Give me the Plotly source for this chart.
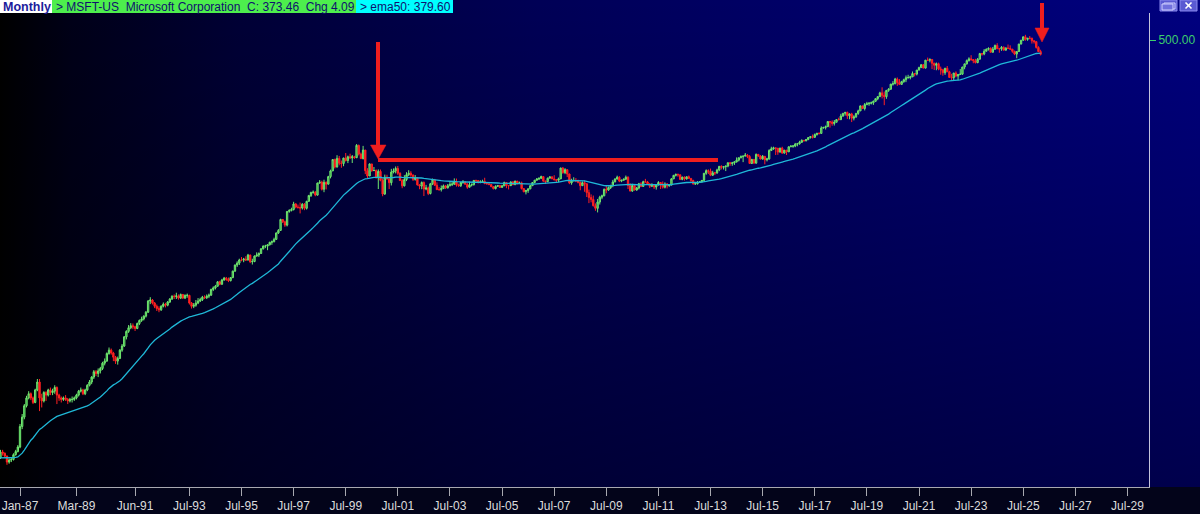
import base64
from datetime import datetime
import pandas as pd
import plotly.graph_objects as go

# ------------------------------------------------------------------ data
start_month = "1986-03"
first_open = 0.089

closes = [
    0.100, 0.113, 0.110, 0.104, 0.092, 0.096, 0.097, 0.107, 0.114, 0.125,                      # 1986 Mar-Dec
    0.190, 0.230, 0.290, 0.340, 0.370, 0.340, 0.310, 0.400, 0.470, 0.340, 0.320, 0.380,         # 1987
    0.360, 0.400, 0.380, 0.390, 0.420, 0.360, 0.340, 0.330, 0.340, 0.330, 0.320, 0.330,         # 1988
    0.330, 0.340, 0.360, 0.390, 0.400, 0.370, 0.400, 0.440, 0.470, 0.520, 0.580, 0.560,         # 1989
    0.590, 0.620, 0.690, 0.720, 0.840, 0.900, 0.850, 0.780, 0.720, 0.760, 0.900, 0.980,         # 1990
    1.180, 1.320, 1.420, 1.480, 1.450, 1.400, 1.550, 1.650, 1.700, 1.800, 1.950, 2.450,         # 1991
    2.500, 2.350, 2.200, 2.100, 2.050, 2.200, 2.300, 2.250, 2.400, 2.550, 2.700, 2.680,         # 1992
    2.720, 2.600, 2.800, 2.600, 2.750, 2.750, 2.350, 2.200, 2.250, 2.350, 2.450, 2.520,         # 1993
    2.650, 2.620, 2.700, 2.760, 3.100, 3.200, 3.310, 3.620, 3.450, 3.760, 3.900, 3.820,         # 1994
    3.710, 3.950, 4.500, 5.100, 5.300, 5.650, 5.640, 5.750, 5.650, 6.250, 5.450, 5.480,         # 1995
    6.120, 6.250, 6.450, 7.100, 7.500, 7.500, 7.700, 8.100, 8.200, 8.600, 9.800, 10.33,         # 1996
    12.90, 12.30, 11.50, 15.20, 15.50, 15.80, 17.70, 16.60, 16.50, 16.30, 17.60, 16.20,         # 1997
    18.66, 21.00, 22.40, 22.50, 21.20, 27.10, 27.60, 23.90, 27.50, 26.50, 30.90, 34.70,         # 1998
    43.75, 37.60, 44.80, 40.60, 40.40, 45.10, 42.90, 46.30, 45.30, 46.30, 45.50, 58.40,         # 1999
    48.90, 44.70, 53.10, 34.90, 31.30, 40.00, 34.90, 35.00, 30.20, 34.40, 28.70, 21.70,         # 2000
    30.50, 29.50, 27.30, 33.90, 34.60, 36.50, 33.10, 28.50, 25.60, 29.10, 32.10, 33.10,         # 2001
    31.90, 29.20, 30.20, 26.10, 25.50, 27.40, 24.00, 24.50, 21.90, 26.70, 28.90, 25.90,         # 2002
    23.70, 23.70, 24.20, 25.60, 24.60, 25.60, 26.40, 26.50, 27.80, 26.10, 25.70, 27.40,         # 2003
    27.70, 26.50, 24.90, 26.10, 26.20, 28.60, 28.50, 27.30, 27.70, 28.00, 26.80, 26.70,         # 2004
    26.30, 25.20, 24.20, 25.30, 25.80, 24.80, 25.60, 27.40, 25.70, 25.70, 27.70, 26.20,         # 2005
    28.20, 26.90, 27.20, 24.20, 22.70, 23.30, 24.10, 25.70, 27.40, 28.70, 29.40, 29.90,         # 2006
    30.90, 28.20, 27.90, 29.90, 30.70, 29.50, 29.00, 28.70, 29.50, 36.80, 33.60, 35.60,         # 2007
    32.60, 27.20, 28.40, 28.50, 28.30, 27.50, 25.70, 27.30, 26.70, 22.30, 20.20, 19.40,         # 2008
    17.10, 16.20, 18.40, 20.30, 20.90, 23.80, 23.50, 24.70, 25.70, 27.70, 29.40, 30.50,         # 2009
    28.20, 28.70, 29.30, 30.50, 25.80, 23.00, 25.80, 23.50, 24.50, 26.70, 25.30, 27.90,         # 2010
    27.70, 26.60, 25.40, 26.00, 25.00, 26.00, 27.40, 26.60, 24.90, 26.60, 25.60, 26.00,         # 2011
    29.50, 31.70, 32.30, 32.00, 29.20, 30.60, 29.50, 30.80, 29.80, 28.50, 26.60, 26.70,         # 2012
    27.50, 27.80, 28.60, 33.10, 34.90, 34.50, 31.80, 33.40, 33.30, 35.40, 38.10, 37.40,         # 2013
    37.80, 38.30, 41.00, 40.40, 40.90, 41.70, 43.20, 45.40, 46.40, 47.00, 47.80, 46.50,         # 2014
    40.40, 43.90, 40.70, 48.60, 47.00, 44.20, 46.70, 43.50, 44.30, 52.60, 54.40, 55.50,         # 2015
    55.10, 50.90, 55.20, 49.90, 53.00, 51.20, 56.70, 57.50, 57.60, 59.90, 60.30, 62.10,         # 2016
    64.70, 64.00, 65.90, 68.50, 69.80, 68.90, 72.70, 74.80, 74.50, 83.20, 84.20, 85.50,         # 2017
    95.00, 93.80, 91.30, 93.50, 98.80, 98.60, 106.1, 112.3, 114.4, 106.8, 110.9, 101.6,         # 2018
    104.4, 112.0, 117.9, 130.6, 123.7, 134.0, 136.3, 137.9, 139.0, 143.4, 151.4, 157.7,         # 2019
    170.2, 162.0, 157.7, 179.2, 183.3, 203.5, 205.0, 225.5, 210.3, 202.5, 214.1, 222.4,         # 2020
    232.0, 232.4, 235.8, 252.2, 249.7, 270.9, 284.9, 301.9, 281.9, 331.6, 330.6, 336.3,         # 2021
    311.0, 298.8, 308.3, 277.5, 271.9, 256.8, 280.7, 261.5, 232.9, 232.1, 255.1, 239.8,         # 2022
    247.8, 249.4, 288.3, 307.3, 328.4, 340.5, 335.9, 327.8, 315.8, 338.1, 378.9, 376.0,         # 2023
    397.6, 413.6, 420.7, 389.3, 415.1, 446.9, 418.4, 417.1, 430.3, 406.4, 423.5, 421.5,         # 2024
    415.1, 397.0, 375.4, 395.3, 460.4, 497.4, 533.5, 506.7, 517.9, 517.8, 492.0, 483.6,         # 2025
    430.0, 395.0, 373.46,                                                                       # 2026 Jan-Mar
]

highs = [
    0.104, 0.118, 0.118, 0.112, 0.105, 0.099, 0.101, 0.110, 0.118, 0.130,
    0.200, 0.245, 0.300, 0.355, 0.390, 0.380, 0.350, 0.410, 0.500, 0.500, 0.370, 0.390,
    0.390, 0.410, 0.420, 0.410, 0.440, 0.430, 0.370, 0.350, 0.350, 0.360, 0.340, 0.340,
    0.350, 0.350, 0.370, 0.400, 0.420, 0.410, 0.410, 0.450, 0.490, 0.530, 0.600, 0.600,
    0.620, 0.640, 0.710, 0.760, 0.860, 0.950, 0.930, 0.870, 0.800, 0.790, 0.920, 1.020,
    1.200, 1.350, 1.500, 1.560, 1.550, 1.480, 1.580, 1.680, 1.780, 1.830, 2.000, 2.500,
    2.650, 2.550, 2.400, 2.280, 2.200, 2.250, 2.380, 2.360, 2.450, 2.600, 2.750, 2.800,
    2.900, 2.800, 2.850, 2.820, 2.800, 2.850, 2.780, 2.400, 2.350, 2.500, 2.600, 2.620,
    2.720, 2.750, 2.800, 2.850, 3.150, 3.300, 3.400, 3.680, 3.700, 3.850, 4.000, 4.000,
    3.950, 3.980, 4.550, 5.150, 5.500, 5.800, 6.000, 5.900, 6.100, 6.400, 6.300, 5.800,
    6.200, 6.600, 6.600, 7.200, 7.600, 7.700, 7.800, 8.200, 8.400, 8.900, 9.900, 10.60,
    13.10, 13.00, 12.60, 15.30, 15.90, 16.40, 18.50, 18.00, 17.50, 18.20, 18.00, 18.00,
    18.90, 21.30, 22.70, 23.30, 23.00, 27.30, 28.80, 28.40, 29.00, 28.00, 31.40, 35.60,
    44.00, 44.60, 47.80, 47.10, 42.90, 45.40, 50.00, 47.40, 49.30, 48.00, 47.20, 59.97,
    59.30, 50.50, 57.80, 53.10, 36.70, 40.50, 40.00, 37.60, 35.80, 35.80, 35.70, 29.70,
    32.20, 32.10, 30.60, 36.20, 36.50, 38.00, 38.40, 33.70, 29.40, 31.80, 33.80, 35.20,
    34.50, 32.30, 31.90, 30.60, 26.50, 28.00, 28.00, 26.10, 25.20, 27.20, 29.70, 29.50,
    27.50, 24.90, 25.80, 26.30, 26.10, 26.60, 27.90, 27.70, 29.80, 29.70, 26.80, 27.70,
    28.80, 28.00, 27.00, 27.90, 26.90, 28.70, 29.00, 28.50, 28.70, 29.00, 30.20, 27.40,
    26.80, 26.40, 25.40, 25.90, 26.00, 26.10, 26.10, 27.90, 27.50, 26.00, 28.00, 28.20,
    28.40, 28.20, 27.90, 27.90, 24.30, 23.60, 24.30, 26.00, 27.50, 28.90, 30.00, 30.30,
    31.50, 31.10, 28.50, 30.30, 31.20, 31.20, 31.80, 29.40, 30.30, 37.00, 37.50, 36.70,
    35.90, 32.80, 29.60, 30.50, 30.00, 29.00, 27.90, 28.00, 28.50, 27.00, 23.70, 21.50,
    21.00, 17.90, 19.60, 20.90, 21.40, 24.30, 25.70, 25.30, 26.20, 28.90, 29.90, 31.50,
    31.20, 29.00, 29.70, 31.60, 31.10, 26.90, 26.70, 26.10, 25.00, 27.20, 27.60, 28.40,
    29.50, 28.30, 27.00, 27.00, 26.00, 26.20, 28.20, 27.50, 28.00, 27.50, 27.10, 26.20,
    30.00, 32.00, 32.90, 32.90, 32.50, 30.80, 31.00, 31.00, 31.60, 30.00, 29.00, 27.70,
    28.20, 28.10, 28.80, 33.10, 35.80, 35.80, 36.40, 34.80, 34.00, 36.30, 38.30, 38.90,
    37.90, 38.60, 41.10, 41.70, 41.70, 42.30, 45.70, 45.50, 47.60, 47.20, 50.00, 49.00,
    47.90, 44.30, 44.20, 49.50, 48.80, 47.80, 48.00, 47.10, 45.30, 54.00, 56.80, 56.80,
    55.60, 55.10, 55.60, 56.80, 53.00, 53.00, 57.30, 58.50, 58.70, 61.40, 61.40, 64.10,
    66.00, 65.20, 66.20, 69.10, 70.70, 72.90, 74.40, 74.90, 75.90, 86.20, 85.10, 87.50,
    95.50, 96.20, 97.20, 97.90, 99.00, 102.7, 111.1, 112.8, 115.3, 116.2, 112.2, 113.4,
    107.9, 113.2, 120.8, 131.4, 130.7, 138.4, 141.7, 140.9, 142.4, 145.7, 152.0, 159.6,
    174.1, 190.7, 175.0, 180.6, 187.5, 204.4, 216.4, 231.2, 232.9, 225.2, 217.5, 227.2,
    242.6, 246.1, 241.0, 263.2, 254.4, 271.7, 290.2, 305.8, 305.8, 332.0, 349.7, 344.3,
    338.0, 315.1, 315.9, 315.1, 290.9, 277.7, 283.7, 294.2, 267.0, 251.0, 255.3, 263.9,
    249.8, 276.8, 289.3, 308.9, 335.9, 351.4, 366.8, 338.5, 340.9, 346.2, 384.3, 384.0,
    415.3, 420.8, 430.8, 430.8, 433.6, 456.2, 468.4, 422.0, 441.9, 439.6, 431.0, 456.2,
    448.4, 416.1, 402.1, 396.0, 462.5, 500.8, 536.0, 555.5, 520.0, 542.0, 524.0, 498.0,
    490.0, 440.0, 410.0,
]

lows = [
    0.088, 0.098, 0.105, 0.101, 0.087, 0.089, 0.092, 0.095, 0.105, 0.112,
    0.122, 0.180, 0.220, 0.280, 0.330, 0.325, 0.300, 0.305, 0.390, 0.260, 0.280, 0.310,
    0.320, 0.350, 0.360, 0.360, 0.370, 0.300, 0.320, 0.310, 0.320, 0.320, 0.300, 0.310,
    0.310, 0.320, 0.330, 0.350, 0.380, 0.360, 0.360, 0.390, 0.430, 0.450, 0.500, 0.530,
    0.520, 0.560, 0.600, 0.660, 0.710, 0.820, 0.820, 0.720, 0.680, 0.670, 0.750, 0.870,
    0.960, 1.120, 1.280, 1.380, 1.380, 1.330, 1.380, 1.500, 1.600, 1.650, 1.750, 1.920,
    2.300, 2.280, 2.120, 2.000, 1.950, 2.000, 2.150, 2.150, 2.200, 2.350, 2.500, 2.550,
    2.550, 2.520, 2.550, 2.550, 2.550, 2.620, 2.280, 2.100, 2.120, 2.180, 2.300, 2.400,
    2.450, 2.550, 2.550, 2.600, 2.720, 3.000, 3.100, 3.280, 3.380, 3.400, 3.700, 3.700,
    3.600, 3.650, 3.900, 4.450, 4.900, 5.100, 5.500, 5.400, 5.550, 5.600, 5.300, 5.150,
    5.400, 6.050, 6.000, 6.400, 7.000, 7.200, 6.900, 7.600, 7.700, 8.100, 8.500, 9.600,
    10.20, 12.00, 11.10, 11.20, 14.80, 15.20, 15.50, 16.20, 16.10, 14.60, 15.80, 15.60,
    15.80, 18.60, 20.40, 21.80, 20.70, 21.00, 26.70, 23.30, 22.50, 23.80, 26.40, 29.80,
    34.70, 36.50, 37.20, 38.90, 37.00, 38.20, 42.00, 40.70, 44.40, 40.80, 44.40, 45.00,
    47.50, 44.10, 43.80, 32.50, 30.00, 31.30, 34.10, 34.70, 29.80, 24.00, 28.10, 20.70,
    21.30, 29.00, 24.00, 25.80, 33.00, 33.00, 32.00, 28.30, 24.40, 25.30, 28.20, 31.20,
    30.80, 28.30, 28.50, 25.80, 23.90, 23.90, 20.80, 23.40, 21.20, 21.50, 26.00, 25.60,
    23.50, 23.20, 22.80, 24.00, 24.00, 24.20, 25.40, 25.50, 26.10, 25.20, 25.10, 25.00,
    26.70, 26.30, 24.10, 24.80, 25.30, 25.80, 27.50, 27.00, 27.10, 27.50, 26.50, 26.30,
    25.90, 24.90, 23.80, 23.80, 25.20, 24.60, 24.70, 25.50, 24.40, 23.80, 25.50, 26.00,
    26.10, 26.30, 26.70, 23.80, 22.50, 21.50, 22.20, 23.90, 25.50, 26.90, 28.50, 28.80,
    29.40, 27.80, 26.60, 27.90, 29.90, 29.50, 28.70, 27.50, 27.60, 29.40, 32.70, 32.50,
    30.60, 26.50, 26.20, 28.10, 27.60, 26.90, 23.40, 25.50, 22.70, 20.40, 18.00, 18.30,
    16.80, 15.40, 14.90, 17.50, 19.50, 20.70, 22.00, 23.10, 24.00, 24.90, 27.60, 29.20,
    27.60, 27.60, 28.50, 28.90, 24.00, 23.00, 22.70, 23.30, 23.20, 23.80, 25.10, 25.20,
    27.50, 26.30, 24.50, 25.00, 24.00, 23.70, 25.90, 24.00, 24.20, 24.30, 24.30, 25.20,
    25.90, 29.50, 31.00, 30.80, 28.80, 28.70, 28.50, 29.10, 29.50, 27.80, 26.30, 26.20,
    26.30, 27.20, 27.40, 28.50, 32.10, 32.60, 31.20, 31.30, 31.90, 32.80, 34.50, 35.80,
    35.70, 34.60, 37.40, 38.50, 38.50, 39.20, 41.20, 42.10, 44.80, 41.50, 46.70, 45.00,
    40.20, 40.10, 40.10, 40.10, 46.20, 43.90, 43.70, 39.70, 42.10, 43.60, 52.00, 53.40,
    48.00, 48.20, 50.60, 49.30, 49.50, 48.00, 51.10, 56.50, 55.60, 56.30, 57.30, 59.20,
    61.90, 63.60, 63.60, 64.90, 67.10, 67.10, 68.00, 71.30, 72.90, 74.20, 82.20, 80.70,
    85.00, 83.80, 87.10, 87.50, 93.30, 97.40, 98.30, 104.8, 107.2, 100.1, 99.40, 93.90,
    97.20, 102.3, 108.8, 117.6, 123.0, 119.0, 132.5, 130.8, 134.5, 133.2, 142.0, 146.7,
    156.5, 152.0, 132.5, 150.8, 173.8, 181.3, 197.5, 203.1, 196.3, 199.6, 200.1, 209.1,
    211.9, 227.9, 224.3, 235.5, 238.1, 243.0, 269.6, 283.7, 281.6, 280.3, 326.4, 317.3,
    276.1, 271.5, 270.0, 270.0, 246.4, 241.5, 245.9, 260.7, 232.7, 219.1, 221.4, 233.9,
    219.4, 245.5, 245.6, 275.4, 303.4, 322.5, 327.0, 311.6, 309.5, 311.2, 337.0, 362.9,
    366.5, 397.2, 403.4, 388.0, 388.0, 408.5, 417.0, 385.6, 401.2, 405.6, 404.0, 418.5,
    410.7, 385.5, 367.2, 344.8, 392.0, 456.9, 491.0, 492.4, 492.4, 507.0, 465.0, 464.9,
    420.0, 390.0, 365.0,
]

tick_labels = ["Jan-87", "Mar-89", "Jun-91", "Jul-93", "Jul-95", "Jul-97", "Jul-99",
               "Jul-01", "Jul-03", "Jul-05", "Jul-07", "Jul-09", "Jul-11", "Jul-13",
               "Jul-15", "Jul-17", "Jul-19", "Jul-21", "Jul-23", "Jul-25", "Jul-27", "Jul-29"]

price_tick_values = [500]
price_tick_texts = ["500.00"]

ema_span = 50
legend_period = "Monthly"
legend_main = "> MSFT-US  Microsoft Corporation  C: 373.46  Chg 4.09"
legend_ema = "> ema50: 379.60"

# ------------------------------------------------------------------ derived
periods = pd.period_range(start_month, periods=len(closes), freq="M")
month_idx = [(p.year - 1987) * 12 + (p.month - 1) for p in periods]
opens = [first_open] + closes[:-1]
ema = pd.Series(closes).ewm(span=ema_span, adjust=False).mean()


def label_to_idx(s):
    d = datetime.strptime(s, "%b-%y")
    return (d.year - 1987) * 12 + (d.month - 1)


tick_idx = [label_to_idx(s) for s in tick_labels]

# ------------------------------------------------------------------ layout geometry
W, H = 1200, 514
ML, MR, MT, MB = 0, 51, 13, 27
PW, PH = W - ML - MR, H - MT - MB
PX_PER_MONTH = 2.1715
X0_PIX = 20.0               # pixel of Jan-87
x_min = -X0_PIX / PX_PER_MONTH
x_max = x_min + PW / PX_PER_MONTH
PX_PER_DECADE = 113.0
log500 = 2.69897
y_top = log500 + (40 - MT) / PX_PER_DECADE
y_bot = log500 - (MT + PH - 40) / PX_PER_DECADE


def fx(px):
    return (px - ML) / PW


def fy(py):
    return (MT + PH - py) / PH


FONT = "Liberation Sans, Arial, sans-serif"
RED = "#f01e1e"

# ------------------------------------------------------------------ background gradient (SVG)
svg = f"""<svg xmlns='http://www.w3.org/2000/svg' width='{W}' height='{H}' viewBox='0 0 {W} {H}' preserveAspectRatio='none'>
<defs>
<linearGradient id='h' x1='0' y1='0' x2='1' y2='0'>
<stop offset='0' stop-color='#000000'/>
<stop offset='0.06' stop-color='#000018'/>
<stop offset='0.2' stop-color='#000036'/>
<stop offset='0.45' stop-color='#000056'/>
<stop offset='0.75' stop-color='#00006e'/>
<stop offset='1' stop-color='#000080'/>
</linearGradient>
<linearGradient id='v' x1='0' y1='0' x2='0' y2='1'>
<stop offset='0' stop-color='#000000' stop-opacity='0'/>
<stop offset='1' stop-color='#000000' stop-opacity='0.4'/>
</linearGradient>
</defs>
<rect x='0' y='0' width='{W}' height='{H}' fill='url(#h)'/>
<rect x='0' y='0' width='{W}' height='{MT + PH}' fill='url(#v)'/>
<rect x='0' y='{MT + PH}' width='{W}' height='{MB}' fill='#03041a'/>
</svg>"""
bg_src = "data:image/svg+xml;base64," + base64.b64encode(svg.encode()).decode()

# ------------------------------------------------------------------ figure
fig = go.Figure()
fig.add_trace(go.Candlestick(
    x=month_idx, open=opens, high=highs, low=lows, close=closes,
    increasing=dict(line=dict(color="#6fe66f", width=1), fillcolor="#2f9a3f"),
    decreasing=dict(line=dict(color="#ff2020", width=1), fillcolor="#ff2020"),
    whiskerwidth=0, hoverinfo="skip", showlegend=False,
))
fig.add_trace(go.Scatter(
    x=month_idx, y=ema, mode="lines",
    line=dict(color="#1fb8d8", width=1.3), hoverinfo="skip", showlegend=False,
))

shapes = [
    # legend bar boxes
    dict(type="rect", xref="paper", yref="paper", x0=fx(0), x1=fx(52), y0=fy(13), y1=fy(0),
         fillcolor="#ffffff", line=dict(width=0)),
    dict(type="rect", xref="paper", yref="paper", x0=fx(52), x1=fx(356), y0=fy(13), y1=fy(0),
         fillcolor="#4dee4d", line=dict(width=0)),
    dict(type="rect", xref="paper", yref="paper", x0=fx(356), x1=fx(453), y0=fy(13), y1=fy(0),
         fillcolor="#00ffff", line=dict(width=0)),
    # window buttons
    dict(type="rect", xref="paper", yref="paper", x0=fx(1160), x1=fx(1177), y0=fy(11), y1=fy(0),
         fillcolor="#5a5ad2", line=dict(color="#8a8aee", width=1)),
    dict(type="rect", xref="paper", yref="paper", x0=fx(1164), x1=fx(1175), y0=fy(9), y1=fy(3),
         fillcolor="rgba(0,0,0,0)", line=dict(color="#d0d0ff", width=1)),
    dict(type="rect", xref="paper", yref="paper", x0=fx(1162), x1=fx(1173), y0=fy(10), y1=fy(4),
         fillcolor="#7070dd", line=dict(color="#d0d0ff", width=1)),
    dict(type="rect", xref="paper", yref="paper", x0=fx(1180), x1=fx(1197), y0=fy(11), y1=fy(0),
         fillcolor="#5a5ad2", line=dict(color="#8a8aee", width=1)),
    dict(type="line", xref="paper", yref="paper", x0=fx(1185.5), x1=fx(1191.5), y0=fy(2.5), y1=fy(8.5),
         line=dict(color="#ffffff", width=1.6)),
    dict(type="line", xref="paper", yref="paper", x0=fx(1185.5), x1=fx(1191.5), y0=fy(8.5), y1=fy(2.5),
         line=dict(color="#ffffff", width=1.6)),
    # red annotation: arrow 1 + horizontal level
    dict(type="line", xref="paper", yref="paper", x0=fx(378), x1=fx(378), y0=fy(42), y1=fy(147),
         line=dict(color=RED, width=4)),
    dict(type="path", xref="paper", yref="paper",
         path=f"M {fx(370.5)},{fy(145)} L {fx(386)},{fy(145)} L {fx(378.2)},{fy(159)} Z",
         fillcolor=RED, line=dict(color=RED, width=0.5)),
    dict(type="line", xref="paper", yref="paper", x0=fx(378), x1=fx(718), y0=fy(160), y1=fy(160),
         line=dict(color=RED, width=4)),
    # arrow 2
    dict(type="line", xref="paper", yref="paper", x0=fx(1042), x1=fx(1042), y0=fy(3), y1=fy(30),
         line=dict(color=RED, width=4)),
    dict(type="path", xref="paper", yref="paper",
         path=f"M {fx(1035)},{fy(28)} L {fx(1049)},{fy(28)} L {fx(1042)},{fy(42)} Z",
         fillcolor=RED, line=dict(color=RED, width=0.5)),
]

nb = "\u00a0"
annotations = [
    dict(text=f"<b>{legend_period}</b>", xref="paper", yref="paper", x=fx(1), y=fy(6.5),
         xanchor="left", yanchor="middle", showarrow=False,
         font=dict(family=FONT, size=12.5, color="#1c1c9c")),
    dict(text=legend_main.replace(" ", nb), xref="paper", yref="paper", x=fx(54), y=fy(6.5),
         xanchor="left", yanchor="middle", showarrow=False,
         font=dict(family=FONT, size=12, color="#10106e")),
    dict(text=legend_ema.replace(" ", nb), xref="paper", yref="paper", x=fx(358), y=fy(6.5),
         xanchor="left", yanchor="middle", showarrow=False,
         font=dict(family=FONT, size=12, color="#10106e")),
]

fig.update_layout(
    width=W, height=H, autosize=False,
    margin=dict(l=ML, r=MR, t=MT, b=MB, pad=0),
    paper_bgcolor="#000000", plot_bgcolor="rgba(0,0,0,0)",
    boxgap=0.12,
    images=[dict(source=bg_src, xref="paper", yref="paper",
                 x=-ML / PW, y=1 + MT / PH, sizex=W / PW, sizey=H / PH,
                 xanchor="left", yanchor="top", sizing="stretch", layer="below")],
    shapes=shapes, annotations=annotations,
    showlegend=False,
    xaxis=dict(
        type="linear", range=[x_min, x_max], rangeslider=dict(visible=False),
        tickmode="array", tickvals=tick_idx, ticktext=tick_labels,
        showgrid=False, zeroline=False, showline=True, linecolor="#a8a8b0", linewidth=1,
        ticks="outside", ticklen=8, tickcolor="#a8a8b0", tickwidth=1,
        tickfont=dict(family=FONT, size=12, color="#dcdcdc"),
    ),
    yaxis=dict(
        type="log", range=[y_bot, y_top], side="right",
        tickmode="array", tickvals=price_tick_values, ticktext=price_tick_texts,
        showgrid=False, zeroline=False, showline=True, linecolor="#c4c4dc", linewidth=1,
        ticks="outside", ticklen=6, tickcolor="#3ccf6c", tickwidth=1,
        tickfont=dict(family=FONT, size=12, color="#3ccf6c"),
    ),
)

fig.write_html("out.html", config={"displayModeBar": False},
               post_script="document.body.style.margin='0';document.body.style.padding='0';")
